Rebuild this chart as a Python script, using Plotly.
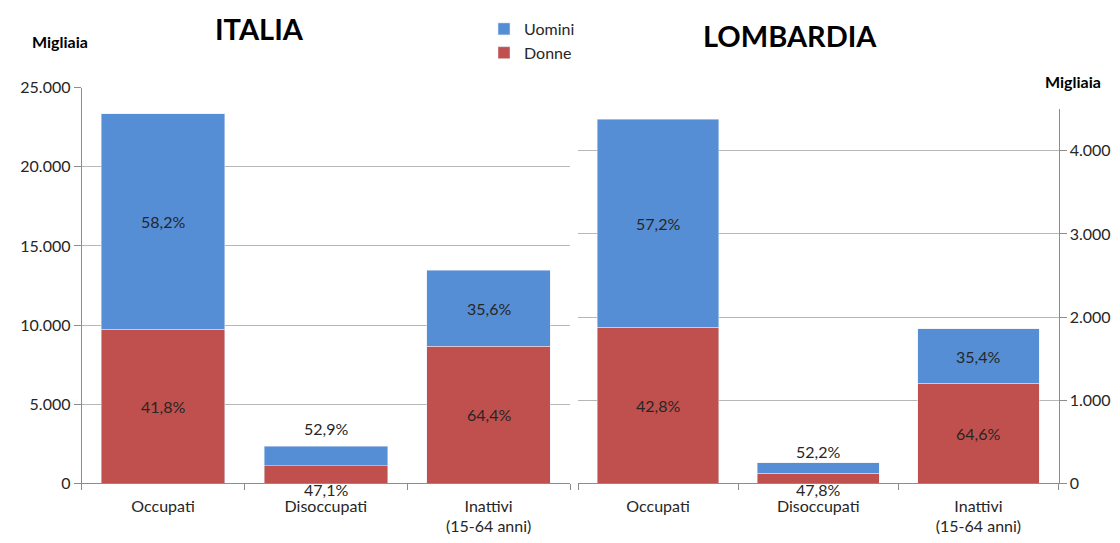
import plotly.graph_objects as go

categories = ["Occupati", "Disoccupati", "Inattivi<br>(15-64 anni)"]

ita_donne = [9750, 1110, 8675]
ita_uomini = [13590, 1245, 4795]
ita_pct_donne = ["41,8%", "47,1%", "64,4%"]
ita_pct_uomini = ["58,2%", "52,9%", "35,6%"]

lom_donne = [1875, 119, 1202]
lom_uomini = [2508, 131, 658]
lom_pct_donne = ["42,8%", "47,8%", "64,6%"]
lom_pct_uomini = ["57,2%", "52,2%", "35,4%"]

# label placement: True -> label outside the bar (above the top / below the base)
outside_labels = [False, True, False]

BLUE = "#558ED5"
RED = "#C0504D"
GRID = "#B7B7B7"
AXIS = "#8C8C8C"
TXT = "#262626"
FONT = "Lato, 'Open Sans', sans-serif"

# page body has an 8px margin: keep the figure inside the 1120x543 window
OFF = 8
W, H = 1120 - 2 * OFF, 543 - 2 * OFF


def fx(x):
    return (x - OFF) / W


def fy(y):
    return 1 - (y - OFF) / H


fig = go.Figure()

fig.add_trace(go.Bar(x=categories, y=ita_donne, name="Donne", marker_color=RED,
                     xaxis="x", yaxis="y", legendrank=2, hoverinfo="y"))
fig.add_trace(go.Bar(x=categories, y=ita_uomini, name="Uomini", marker_color=BLUE,
                     xaxis="x", yaxis="y", legendrank=1, hoverinfo="y"))
fig.add_trace(go.Bar(x=categories, y=lom_donne, name="Donne", marker_color=RED,
                     xaxis="x2", yaxis="y2", showlegend=False, hoverinfo="y"))
fig.add_trace(go.Bar(x=categories, y=lom_uomini, name="Uomini", marker_color=BLUE,
                     xaxis="x2", yaxis="y2", showlegend=False, hoverinfo="y"))

annotations = []


def add_labels(xref, yref, donne, uomini, pct_d, pct_u, up_shift, down_shift):
    for i, cat in enumerate(categories):
        d, u = donne[i], uomini[i]
        lab_d, lab_u = pct_d[i], pct_u[i]
        f = dict(family=FONT, size=16, color=TXT)
        common = dict(xref=xref, yref=yref, showarrow=False, font=f,
                      xanchor="center", yanchor="middle")
        if outside_labels[i]:
            annotations.append(dict(x=cat, y=d + u, text=lab_u, yshift=up_shift, **common))
            annotations.append(dict(x=cat, y=0, text=lab_d, yshift=down_shift, **common))
        else:
            annotations.append(dict(x=cat, y=d / 2, text=lab_d, **common))
            annotations.append(dict(x=cat, y=d + u / 2, text=lab_u, **common))


add_labels("x", "y", ita_donne, ita_uomini, ita_pct_donne, ita_pct_uomini, 18, -6)
add_labels("x2", "y2", lom_donne, lom_uomini, lom_pct_donne, lom_pct_uomini, 11, -6)

paper = dict(xref="paper", yref="paper", showarrow=False, xanchor="center", yanchor="middle")
annotations += [
    dict(text="<b>ITALIA</b>", x=fx(260), y=fy(29),
         font=dict(family=FONT, size=29, color="#000000"), **paper),
    dict(text="<b>LOMBARDIA</b>", x=fx(790), y=fy(36),
         font=dict(family=FONT, size=29, color="#000000"), **paper),
    dict(text="<b>Migliaia</b>", x=fx(60), y=fy(41),
         font=dict(family=FONT, size=16, color="#000000"), **paper),
    dict(text="<b>Migliaia</b>", x=fx(1073), y=fy(81),
         font=dict(family=FONT, size=16, color="#000000"), **paper),
]

bottom = fy(483.3)

xaxis_common = dict(type="category", showline=True, linecolor=AXIS, linewidth=1,
                    ticks="outside", tickson="boundaries", ticklen=6, tickcolor=AXIS,
                    showgrid=False, tickfont=dict(family=FONT, size=16, color=TXT),
                    ticklabelstandoff=8,
                    fixedrange=True, automargin=False)
yaxis_common = dict(showgrid=True, gridcolor=GRID, gridwidth=1, zeroline=False,
                    ticks="outside", ticklen=7, tickcolor=AXIS, tickformat=",d",
                    tickfont=dict(family=FONT, size=16, color=TXT), fixedrange=True,
                    automargin=False)

fig.update_layout(
    width=W, height=H, autosize=False,
    margin=dict(l=0, r=0, t=0, b=0, pad=0, autoexpand=False),
    paper_bgcolor="white", plot_bgcolor="white",
    barmode="stack", bargap=0.24,
    separators=",.",
    xaxis=dict(domain=[fx(81.7), fx(570)], anchor="y", **xaxis_common),
    yaxis=dict(domain=[bottom, fy(87.7)], anchor="x", range=[0, 25000], dtick=5000,
               showline=True, linecolor=AXIS, linewidth=1, **yaxis_common),
    xaxis2=dict(domain=[fx(578), fx(1058.5)], anchor="y2", **xaxis_common),
    yaxis2=dict(domain=[bottom, fy(109.3)], anchor="x2", range=[0, 4500], dtick=1000,
                side="right", showline=True, linecolor=AXIS, linewidth=1, **yaxis_common),
    legend=dict(x=fx(484), y=fy(12), xanchor="left", yanchor="top",
                traceorder="normal",
                font=dict(family=FONT, size=16, color=TXT), bgcolor="rgba(0,0,0,0)"),
    annotations=annotations,
    showlegend=True,
)

fig.write_html("out.html")
